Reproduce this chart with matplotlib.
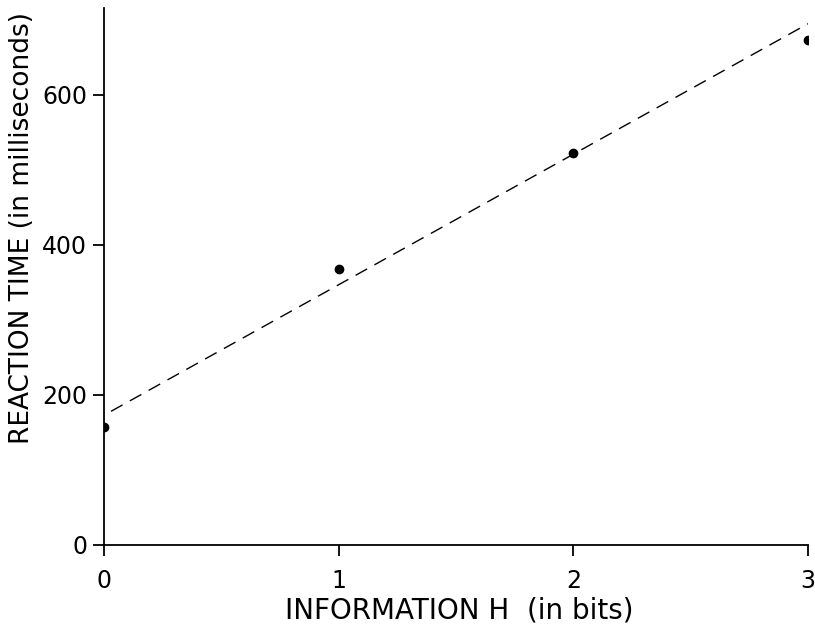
import matplotlib
matplotlib.use('Agg')
import matplotlib.pyplot as plt

# data
info_bits = [0, 1, 2, 3]
reaction_ms = [157, 368, 523, 673]
fit_x = [0.03, 3.0]
fit_intercept = 173
fit_slope = 174
xticks = [0, 1, 2, 3]
yticks = [0, 200, 400, 600]

plt.rcParams['font.family'] = ['DejaVu Sans']

fig = plt.figure(figsize=(8.15, 6.34), dpi=100)
ax = fig.add_axes([0.1276, 0.1404, 0.8638, 0.847])

fit_y = [fit_intercept + fit_slope * x for x in fit_x]
ax.plot(fit_x, fit_y, color='black', lw=1.0, dashes=(9.5, 6))
ax.plot(info_bits, reaction_ms, 'o', color='black', markersize=6)

ax.set_xlim(0, 3)
ax.set_ylim(0, 716)
ax.set_xticks(xticks)
ax.set_yticks(yticks)
ax.spines['top'].set_visible(False)
ax.spines['right'].set_visible(False)
ax.spines['left'].set_linewidth(1.3)
ax.spines['bottom'].set_linewidth(1.3)
ax.tick_params(direction='out', length=8, width=1.3, labelsize=17, pad=4)
ax.tick_params(axis='x', pad=9)

ax.set_xlabel('INFORMATION H  (in bits)', fontsize=20)
ax.xaxis.set_label_coords(0.505, -0.095)
ax.set_ylabel('REACTION TIME (in milliseconds)', fontsize=19)
ax.yaxis.set_label_coords(-0.098, 0.59)

plt.savefig('out.png', dpi=100)
